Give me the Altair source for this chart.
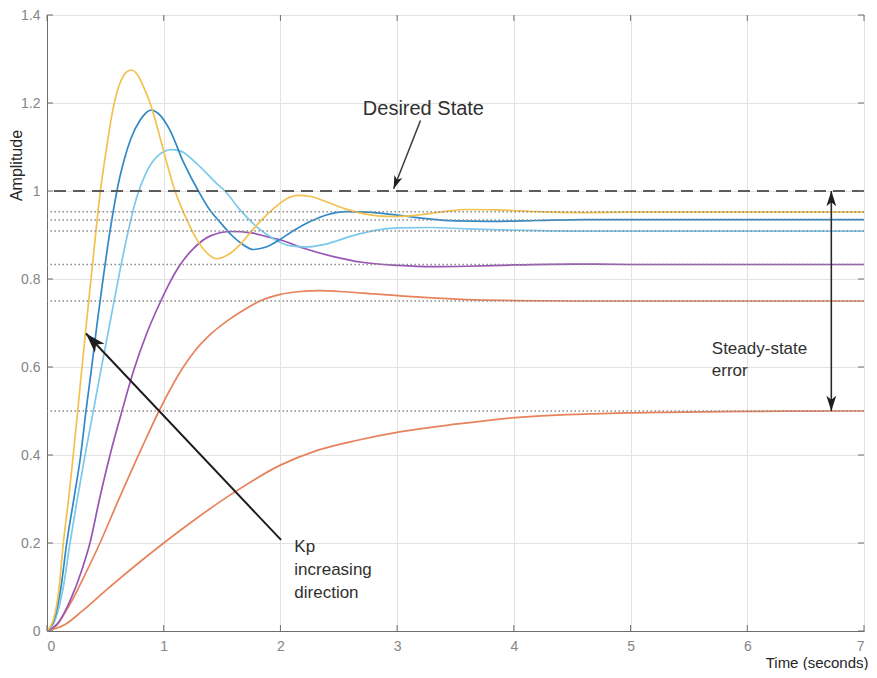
import altair as alt
import pandas as pd

# ---------------- data ----------------
series_names = ["Kp1", "Kp2", "Kp3", "Kp4", "Kp5", "Kp6"]
series_colors = ["#E8825C", "#E8825C", "#9A55B4", "#7CC9EC", "#3089C6", "#F2C14E"]

t_k1 = [0, 0.15, 0.3, 0.511, 0.8, 1.0, 1.25, 1.597, 2.0, 2.31, 2.65, 3.01, 3.5, 4.01, 4.74, 5.3, 6.0, 7.0]
y_k1 = [0, 0.014, 0.045, 0.094, 0.158, 0.2, 0.25, 0.314, 0.377, 0.41, 0.433, 0.452, 0.47, 0.485, 0.494, 0.497, 0.499, 0.5]

t_k2 = [0, 0.08, 0.154, 0.22, 0.311, 0.454, 0.6, 0.81, 0.96, 1.168, 1.268, 1.4, 1.55, 1.7, 1.825, 2.0, 2.15, 2.34,
        2.55, 2.8, 3.01, 3.3, 3.6, 4.01, 4.5, 5.0, 6.0, 7.0]
y_k2 = [0, 0.012, 0.042, 0.072, 0.12, 0.2, 0.29, 0.415, 0.5, 0.6, 0.637, 0.674, 0.706, 0.732, 0.75, 0.765, 0.771, 0.7735,
        0.771, 0.766, 0.762, 0.757, 0.753, 0.751, 0.75, 0.75, 0.75, 0.75]

t_k3 = [0, 0.1, 0.2, 0.3, 0.368, 0.45, 0.54, 0.632, 0.746, 0.86, 0.975, 1.054, 1.125, 1.254, 1.4, 1.58, 1.75, 1.9,
        2.01, 2.2, 2.455, 2.7, 3.01, 3.3, 3.6, 4.0, 4.5, 5.0, 6.0, 7.0]
y_k3 = [0, 0.02, 0.07, 0.14, 0.2, 0.3, 0.4, 0.49, 0.595, 0.68, 0.75, 0.793, 0.826, 0.869, 0.898, 0.908, 0.905, 0.895,
        0.888, 0.87, 0.851, 0.838, 0.831, 0.828, 0.829, 0.832, 0.834, 0.833, 0.833, 0.833]

t_k4 = [0, 0.07, 0.14, 0.197, 0.26, 0.326, 0.397, 0.46, 0.568, 0.626, 0.697, 0.768, 0.85, 0.95, 1.068, 1.15, 1.283,
        1.454, 1.525, 1.654, 1.8, 1.95, 2.08, 2.225, 2.4, 2.6, 2.8, 3.01, 3.3, 3.6, 4.0, 4.5, 5.0, 6.0, 7.0]
y_k4 = [0, 0.025, 0.1, 0.2, 0.3, 0.4, 0.5, 0.59, 0.74, 0.82, 0.91, 0.985, 1.042, 1.08, 1.094, 1.09, 1.062,
        1.017, 1.0, 0.957, 0.918, 0.89, 0.876, 0.873, 0.88, 0.897, 0.91, 0.916, 0.917, 0.914, 0.911, 0.909, 0.909, 0.909, 0.909]

t_k5 = [0, 0.06, 0.12, 0.169, 0.23, 0.289, 0.334, 0.383, 0.43, 0.475, 0.52, 0.565, 0.61, 0.66, 0.72, 0.8, 0.891, 0.97,
        1.05, 1.17, 1.297, 1.4, 1.48, 1.58, 1.68, 1.768, 1.87, 1.985, 2.1, 2.25, 2.4, 2.57, 2.75, 3.0, 3.25, 3.5,
        3.8, 4.2, 4.6, 5.0, 6.0, 7.0]
y_k5 = [0, 0.025, 0.1, 0.2, 0.3, 0.4, 0.5, 0.6, 0.7, 0.79, 0.875, 0.95, 1.015, 1.07, 1.12, 1.162, 1.184, 1.172,
        1.14, 1.065, 1.0, 0.955, 0.93, 0.9, 0.878, 0.867, 0.872, 0.888, 0.908, 0.93, 0.946, 0.953, 0.952, 0.945, 0.937, 0.932,
        0.931, 0.933, 0.935, 0.935, 0.935, 0.935]

t_k6 = [0, 0.06, 0.1, 0.14, 0.185, 0.225, 0.263, 0.3, 0.338, 0.377, 0.416, 0.455, 0.506, 0.554, 0.603, 0.64, 0.68,
        0.726, 0.78, 0.83, 0.883, 0.95, 1.02, 1.097, 1.18, 1.283, 1.36, 1.454, 1.55, 1.65, 1.74, 1.85, 1.95, 2.05, 2.15,
        2.25, 2.4, 2.55, 2.7, 2.85, 3.0, 3.2, 3.4, 3.6, 3.85, 4.2, 4.6, 5.0, 6.0, 7.0]
y_k6 = [0, 0.03, 0.09, 0.2, 0.3, 0.4, 0.5, 0.6, 0.7, 0.8, 0.9, 0.995, 1.09, 1.17, 1.228, 1.254, 1.27,
        1.275, 1.262, 1.235, 1.2, 1.14, 1.07, 1.0, 0.945, 0.89, 0.862, 0.846, 0.855, 0.877, 0.905, 0.937, 0.962, 0.982, 0.99,
        0.988, 0.975, 0.96, 0.949, 0.943, 0.942, 0.946, 0.953, 0.958, 0.957, 0.953, 0.951, 0.952, 0.952, 0.952]

steady_levels = [0.953, 0.934, 0.909, 0.833, 0.75, 0.5]
desired_level = [1.0]

x_ticks = [0, 1, 2, 3, 4, 5, 6, 7]
y_ticks = [0, 0.2, 0.4, 0.6, 0.8, 1, 1.2, 1.4]

# annotations (data coordinates)
arrow_x1 = [3.2, 2.005, 6.72]
arrow_y1 = [1.16, 0.207, 0.5]
arrow_x2 = [2.97, 0.334, 6.72]
arrow_y2 = [1.005, 0.676, 1.0]
arrow_w = [1.5, 2.0, 1.6]
arrow_color = ["#3a3a3a", "#1e1e1e", "#2a2a2a"]

head_x = [2.97, 0.334, 6.72, 6.72]
head_y = [1.005, 0.676, 1.0, 0.5]
head_angle = [201, 317, 0, 180]
head_size = [240, 560, 320, 320]

# ---------------- build tables ----------------
ts = [t_k1, t_k2, t_k3, t_k4, t_k5, t_k6]
ys = [y_k1, y_k2, y_k3, y_k4, y_k5, y_k6]
rows = []
for name, tt, yy in zip(series_names, ts, ys):
    for a, b in zip(tt, yy):
        rows.append({"series": name, "t": a, "y": b})
curves = pd.DataFrame(rows)

W, H = 817, 616
xscale = alt.Scale(domain=[0, 7], nice=False, zero=False)
yscale = alt.Scale(domain=[0, 1.4], nice=False, zero=False)
FONT = "Liberation Sans"

xaxis = alt.Axis(values=x_ticks, grid=True, gridColor="#e2e2e2", ticks=False, tickSize=0,
                 labelPadding=8, labelFontSize=14, labelColor="#858585", labelFont=FONT,
                 domainColor="#6e6e6e", title="Time (seconds)", titleFont=FONT, titleFontSize=15,
                 titleFontWeight="normal", titleColor="#262626", titleAnchor="end",
                 titleAlign="right", titleX=821, titleY=36, titleBaseline="alphabetic")
yaxis = alt.Axis(values=y_ticks, format="~g", grid=True, gridColor="#e2e2e2", ticks=False, tickSize=0,
                 labelPadding=7, labelFontSize=14, labelColor="#858585", labelFont=FONT,
                 domainColor="#6e6e6e", title="Amplitude", titleFont=FONT, titleFontSize=16,
                 titleFontWeight="normal", titleColor="#262626", titleAngle=270,
                 titleX=-26, titleY=150, titleAlign="center", titleBaseline="alphabetic")


def X(f):
    return alt.X(f, type="quantitative", scale=xscale, axis=xaxis)


def Y(f):
    return alt.Y(f, type="quantitative", scale=yscale, axis=yaxis)


lines = alt.Chart(curves).mark_line(strokeWidth=1.7, interpolate="monotone").encode(
    x=X("t"), y=Y("y"),
    color=alt.Color("series:N", scale=alt.Scale(domain=series_names, range=series_colors), legend=None),
    detail="series:N",
)

dotted = alt.Chart(pd.DataFrame({"y": steady_levels})).mark_rule(
    strokeDash=[1.5, 2.5], color="#8c8c8c", strokeWidth=1.5).encode(y=Y("y"))

dashed = alt.Chart(pd.DataFrame({"y": desired_level})).mark_rule(
    strokeDash=[12, 7], color="#5c5c5c", strokeWidth=2).encode(y=Y("y"))

xt = pd.DataFrame({"t": x_ticks})
yt = pd.DataFrame({"y": y_ticks})
tick_col = "#6e6e6e"
tb = alt.Chart(xt).mark_rule(color=tick_col).encode(x=X("t"), y=alt.value(H), y2=alt.value(H - 6))
tt_ = alt.Chart(xt).mark_rule(color=tick_col).encode(x=X("t"), y=alt.value(0), y2=alt.value(6))
tl = alt.Chart(yt).mark_rule(color=tick_col).encode(y=Y("y"), x=alt.value(0), x2=alt.value(6))
tr = alt.Chart(yt).mark_rule(color=tick_col).encode(y=Y("y"), x=alt.value(W), x2=alt.value(W - 6))

arrows_df = pd.DataFrame({"t": arrow_x1, "y": arrow_y1, "t2": arrow_x2, "y2": arrow_y2,
                          "w": arrow_w, "c": arrow_color})
shafts = alt.Chart(arrows_df).mark_rule().encode(
    x=X("t"), y=Y("y"), x2="t2:Q", y2="y2:Q",
    strokeWidth=alt.StrokeWidth("w:Q", scale=None),
    color=alt.Color("c:N", scale=None),
)

heads_df = pd.DataFrame({"t": head_x, "y": head_y, "a": head_angle, "s": head_size})
heads = alt.Chart(heads_df).mark_point(
    shape="M0,0 L0.55,1.7 L0,1.25 L-0.55,1.7 Z", filled=True, opacity=1, color="#1e1e1e", strokeWidth=0
).encode(x=X("t"), y=Y("y"), angle=alt.Angle("a:Q", scale=None), size=alt.Size("s:Q", scale=None))

txt_desired = alt.Chart(pd.DataFrame({"t": [3.225], "y": [1.173], "txt": ["Desired State"]})).mark_text(
    font=FONT, fontSize=20, color="#303030", align="center", baseline="alphabetic"
).encode(x=X("t"), y=Y("y"), text="txt:N")

txt_ss = alt.Chart(pd.DataFrame({"t": [5.696], "y": [0.6286], "txt": ["Steady-state\nerror"]})).mark_text(
    font=FONT, fontSize=17, color="#303030", align="left", baseline="alphabetic", lineBreak="\n", lineHeight=22
).encode(x=X("t"), y=Y("y"), text="txt:N")

txt_kp = alt.Chart(pd.DataFrame({"t": [2.119], "y": [0.1785], "txt": ["Kp\nincreasing\ndirection"]})).mark_text(
    font=FONT, fontSize=17, color="#303030", align="left", baseline="alphabetic", lineBreak="\n", lineHeight=23
).encode(x=X("t"), y=Y("y"), text="txt:N")

chart = alt.layer(
    lines, dotted, dashed, tb, tt_, tl, tr, shafts, heads, txt_desired, txt_ss, txt_kp
).properties(
    width=W, height=H,
    autosize=alt.AutoSizeParams(type="none"),
    padding={"left": 39, "top": 7, "right": 4, "bottom": 39},
    background="white",
).configure_view(stroke="#6e6e6e", strokeWidth=1)

chart.save("out.html", embed_options={"renderer": "svg", "actions": False})
